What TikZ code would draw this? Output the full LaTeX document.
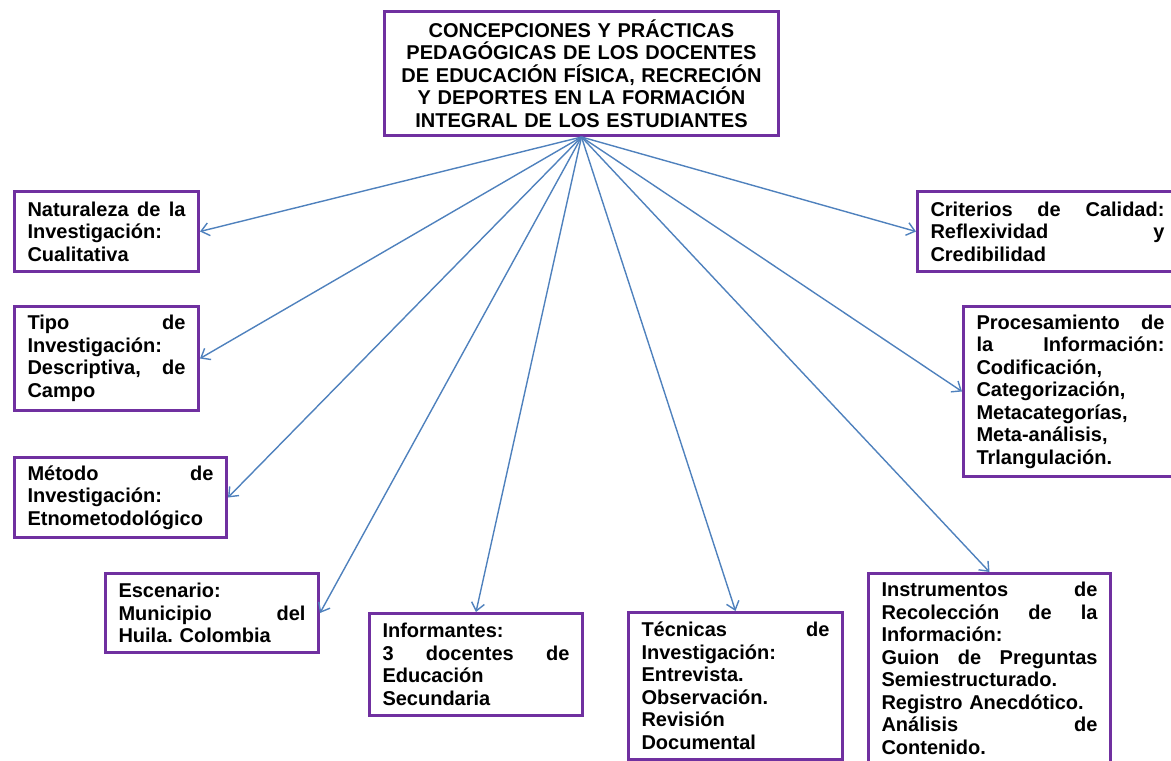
\documentclass[tikz,border=0pt]{standalone}
\usepackage{fontspec}
\setmainfont{Liberation Sans}
\usetikzlibrary{arrows.meta}
\definecolor{kmorado}{HTML}{7030A0}
\definecolor{kazul}{HTML}{4F81BD}
\frenchspacing
\tikzset{
caja/.style={draw=kmorado,line width=3pt,fill=white,inner xsep=13pt,inner ysep=0pt,anchor=north west,align=left,font=\fontsize{20}{22.5}\selectfont\bfseries},
flecha/.style={draw=kazul,line width=1.4pt,-{Straight Barb[length=8pt,width=13pt]}}
}
\begin{document}
\begin{tikzpicture}[x=1pt,y=1pt]
\pgfmathsetmacro{\kpad}{26}
\useasboundingbox(0,0)rectangle(1171,-761);
\node[caja,align=center,text width=394pt-\kpad pt,minimum height=124pt](tit)at(383,-10){CONCEPCIONES Y PRÁCTICAS\\PEDAGÓGICAS DE LOS DOCENTES\\DE EDUCACIÓN FÍSICA, RECRECIÓN\\Y DEPORTES EN LA FORMACIÓN\\INTEGRAL DE LOS ESTUDIANTES};
\node[caja,text width=184pt-\kpad pt,minimum height=80pt](nat)at(13,-190){Naturaleza\hfill de\hfill la\\Investigación:\\Cualitativa};
\node[caja,text width=184pt-\kpad pt,minimum height=104pt](tip)at(13,-305){Tipo\hfill de\\Investigación:\\Descriptiva,\hfill de\\Campo};
\node[caja,text width=212pt-\kpad pt,minimum height=80pt](met)at(13,-456){Método\hfill de\\Investigación:\\Etnometodológico};
\node[caja,text width=213pt-\kpad pt,minimum height=79pt](esc)at(104,-572){Escenario:\\Municipio\hfill del\\Huila. Colombia};
\node[caja,text width=213pt-\kpad pt,minimum height=102pt](inf)at(368,-612){Informantes:\\3\hfill docentes\hfill de\\Educación\\Secundaria};
\node[caja,text width=214pt-\kpad pt,minimum height=147pt](tec)at(627,-611){Técnicas\hfill de\\Investigación:\\Entrevista.\\Observación.\\Revisión\\Documental};
\node[caja,text width=242pt-\kpad pt,minimum height=190pt](ins)at(867,-572){Instrumentos\hfill de\\Recolección\hfill de\hfill la\\Información:\\Guion\hfill de\hfill Preguntas\\Semiestructurado.\\Registro Anecdótico.\\Análisis\hfill de\\Contenido.};
\node[caja,text width=260pt-\kpad pt,minimum height=80pt](cri)at(916,-190){Criterios\hfill de\hfill Calidad:\\Reflexividad\hfill y\\Credibilidad};
\node[caja,text width=214pt-\kpad pt,minimum height=170pt](pro)at(962,-305){Procesamiento\hfill de\\la\hfill Información:\\Codificación,\\Categorización,\\Metacategorías,\\Meta-análisis,\\Trlangulación.};
\foreach \kn/\ka in {nat/east,tip/east,met/east,esc/east,inf/north,tec/north,ins/north,pro/west,cri/west}{\draw[flecha](tit.south)--(\kn.\ka);}
\end{tikzpicture}
\end{document}
